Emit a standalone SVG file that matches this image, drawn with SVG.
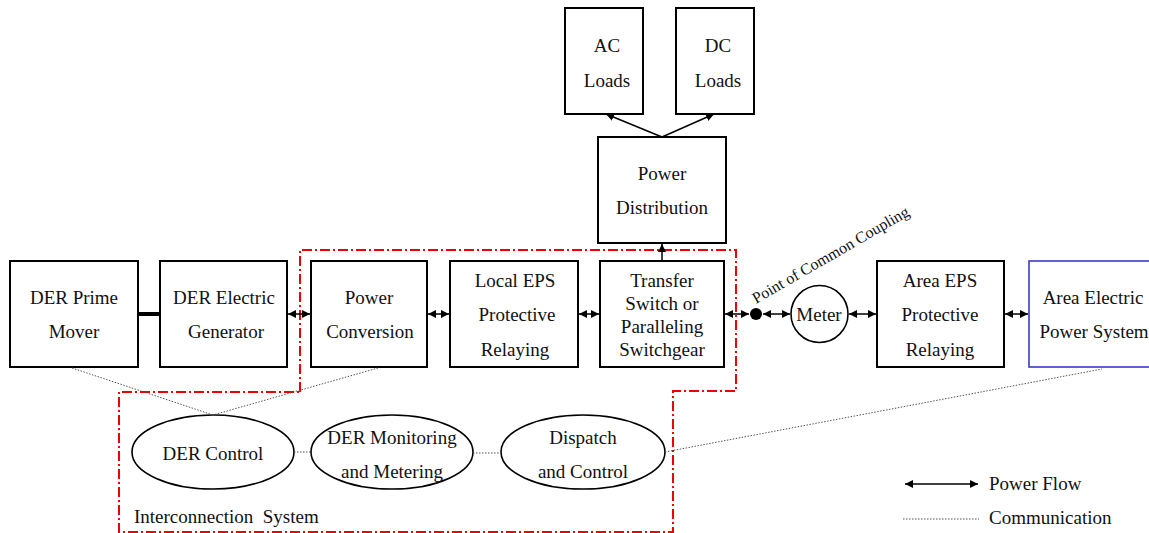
<svg xmlns="http://www.w3.org/2000/svg" width="1149" height="533" viewBox="0 0 1149 533">
<style>
.box{fill:#fff;stroke:#000;stroke-width:2}
.ell{fill:#fff;stroke:#000;stroke-width:1.6}
text{font-family:'Liberation Serif','Times New Roman',serif;font-size:19px;fill:#111}
.mid{text-anchor:middle}
.pf{stroke:#000;stroke-width:1.5;fill:none;marker-start:url(#ah);marker-end:url(#ah)}
.one{stroke:#000;stroke-width:1.5;fill:none;marker-end:url(#ah)}
.com{stroke:#555;stroke-width:1;stroke-dasharray:1.5 1.5;fill:none}
.red{fill:none;stroke:#e00;stroke-width:2;stroke-dasharray:10 3 2 3}
</style>
<defs>
<marker id="ah" viewBox="0 0 8 8" refX="8" refY="4" markerWidth="8" markerHeight="8" markerUnits="userSpaceOnUse" orient="auto-start-reverse">
<path d="M0,0 L8,4 L0,8 z" fill="#000"/>
</marker>
</defs>
<rect width="1149" height="533" fill="#fff"/>

<g id="interconnection-system">
<path class="red" d="M300,392 V250 H736 V391 H673 V532 H119 V392 Z"/>
<text x="134" y="523" style="font-family:'Liberation Serif',serif">Interconnection&#160; System</text>
</g>

<g style="font-family:'Liberation Serif',serif">
<g id="der-prime-mover">
<rect class="box" x="10" y="261" width="128" height="106"/>
<text class="mid" x="74" y="304" style="font-family:'Liberation Serif',serif">DER Prime</text>
<text class="mid" x="74" y="338" style="font-family:'Liberation Serif',serif">Mover</text>
</g>
<g id="der-electric-generator">
<rect class="box" x="160" y="261" width="127" height="106"/>
<text class="mid" x="224" y="304" style="font-family:'Liberation Serif',serif">DER Electric</text>
<text class="mid" x="226" y="338" style="font-family:'Liberation Serif',serif">Generator</text>
</g>
<g id="power-conversion">
<rect class="box" x="311" y="261" width="116" height="106"/>
<text class="mid" x="369" y="304" style="font-family:'Liberation Serif',serif">Power</text>
<text class="mid" x="370" y="338" style="font-family:'Liberation Serif',serif">Conversion</text>
</g>
<g id="local-eps">
<rect class="box" x="450" y="261" width="128" height="106"/>
<text class="mid" x="515" y="287" style="font-family:'Liberation Serif',serif">Local EPS</text>
<text class="mid" x="517" y="321" style="font-family:'Liberation Serif',serif">Protective</text>
<text class="mid" x="515" y="356" style="font-family:'Liberation Serif',serif">Relaying</text>
</g>
<g id="transfer-switch">
<rect class="box" x="600" y="261" width="124" height="106"/>
<text class="mid" x="662" y="287" style="font-family:'Liberation Serif',serif">Transfer</text>
<text class="mid" x="662" y="310" style="font-family:'Liberation Serif',serif">Switch or</text>
<text class="mid" x="662" y="333" style="font-family:'Liberation Serif',serif">Paralleling</text>
<text class="mid" x="662" y="356" style="font-family:'Liberation Serif',serif">Switchgear</text>
</g>
<g id="power-distribution">
<rect class="box" x="598" y="137" width="128" height="106"/>
<text class="mid" x="662" y="180" style="font-family:'Liberation Serif',serif">Power</text>
<text class="mid" x="662" y="214" style="font-family:'Liberation Serif',serif">Distribution</text>
</g>
<g id="ac-loads">
<rect class="box" x="565" y="8" width="78" height="106"/>
<text class="mid" x="607" y="52" style="font-family:'Liberation Serif',serif">AC</text>
<text class="mid" x="607" y="87" style="font-family:'Liberation Serif',serif">Loads</text>
</g>
<g id="dc-loads">
<rect class="box" x="676" y="8" width="78" height="106"/>
<text class="mid" x="718" y="52" style="font-family:'Liberation Serif',serif">DC</text>
<text class="mid" x="718" y="87" style="font-family:'Liberation Serif',serif">Loads</text>
</g>
<g id="pcc">
<circle cx="756" cy="314" r="6" fill="#000"/>
<text transform="translate(756,304) rotate(-30)" style="font-family:'Liberation Serif',serif;font-size:16px">Point of Common Coupling</text>
</g>
<g id="meter">
<circle cx="819.5" cy="314" r="28.5" fill="#fff" stroke="#000" stroke-width="1.6"/>
<text class="mid" x="819" y="321" style="font-family:'Liberation Serif',serif">Meter</text>
</g>
<g id="area-eps">
<rect class="box" x="877" y="261" width="127" height="106"/>
<text class="mid" x="940" y="287" style="font-family:'Liberation Serif',serif">Area EPS</text>
<text class="mid" x="940" y="321" style="font-family:'Liberation Serif',serif">Protective</text>
<text class="mid" x="940" y="356" style="font-family:'Liberation Serif',serif">Relaying</text>
</g>
<g id="area-electric-power-system">
<rect x="1029" y="261" width="130" height="106" fill="#fff" stroke="#3a3acc" stroke-width="1.6"/>
<text class="mid" x="1093" y="304" style="font-family:'Liberation Serif',serif">Area Electric</text>
<text class="mid" x="1094" y="338" style="font-family:'Liberation Serif',serif">Power System</text>
</g>
<g id="der-control">
<ellipse class="ell" cx="213" cy="452" rx="81" ry="37"/>
<text class="mid" x="213" y="460" style="font-family:'Liberation Serif',serif">DER Control</text>
</g>
<g id="der-monitoring">
<ellipse class="ell" cx="392" cy="452" rx="81" ry="37"/>
<text class="mid" x="392" y="444" style="font-family:'Liberation Serif',serif">DER Monitoring</text>
<text class="mid" x="392" y="478" style="font-family:'Liberation Serif',serif">and Metering</text>
</g>
<g id="dispatch">
<ellipse class="ell" cx="583" cy="452" rx="82" ry="37"/>
<text class="mid" x="583" y="444" style="font-family:'Liberation Serif',serif">Dispatch</text>
<text class="mid" x="583" y="478" style="font-family:'Liberation Serif',serif">and Control</text>
</g>
</g>

<g id="connectors">
<line x1="138" y1="314" x2="160" y2="314" stroke="#000" stroke-width="4"/>
<line class="pf" x1="288" y1="314" x2="310" y2="314"/>
<line class="pf" x1="428" y1="314" x2="449" y2="314"/>
<line class="pf" x1="579" y1="314" x2="599" y2="314"/>
<line class="pf" x1="725" y1="314" x2="749" y2="314"/>
<line class="pf" x1="763" y1="314" x2="790" y2="314"/>
<line class="pf" x1="849" y1="314" x2="876" y2="314"/>
<line class="pf" x1="1005" y1="314" x2="1028" y2="314"/>
<line class="one" x1="662" y1="260" x2="662" y2="244"/>
<line class="one" x1="662" y1="137" x2="606" y2="114"/>
<line class="one" x1="662" y1="137" x2="714" y2="114"/>
<line class="com" x1="72" y1="368" x2="213" y2="415"/>
<line class="com" x1="378" y1="368" x2="213" y2="415"/>
<line class="com" x1="294" y1="452" x2="311" y2="452"/>
<line class="com" x1="473" y1="453" x2="501" y2="453"/>
<line class="com" x1="665" y1="452" x2="1102" y2="369"/>
</g>

<g id="legend">
<line class="pf" x1="905" y1="484" x2="978" y2="484"/>
<text x="989" y="490" style="font-family:'Liberation Serif',serif">Power Flow</text>
<line class="com" x1="903" y1="519" x2="979" y2="519"/>
<text x="989" y="524" style="font-family:'Liberation Serif',serif">Communication</text>
</g>
</svg>
